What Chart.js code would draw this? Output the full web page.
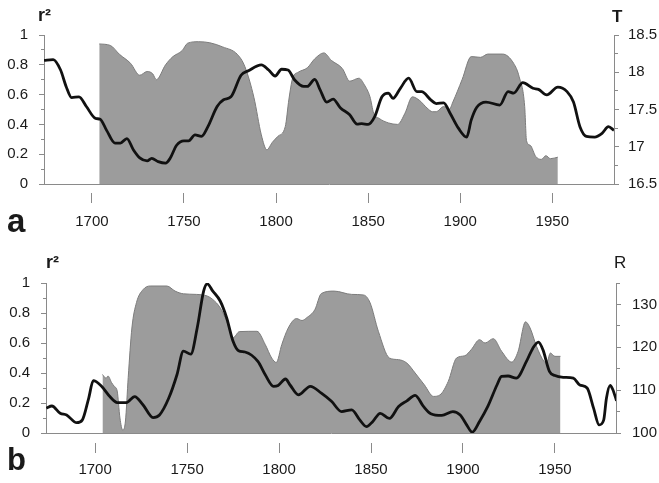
<!DOCTYPE html>
<html>
<head>
<meta charset="utf-8">
<script src="https://cdn.jsdelivr.net/npm/chart.js"></script>
<style>
  html, body { margin: 0; padding: 0; background: #fff; }
  #wrap { position: relative; width: 659px; height: 483px; overflow: hidden;
          font-family: 'Liberation Sans', Arial, sans-serif; color: #1a1a1a; }
  .panel { position: absolute; left: 0; width: 659px; }
  .lbl { position: absolute; line-height: 1; white-space: nowrap; }
</style>
</head>
<body>
<div id="wrap">
  <div class="panel" style="top:0;height:240px"><canvas id="chartA" width="659" height="240"></canvas></div>
  <div class="panel" style="top:240px;height:243px"><canvas id="chartB" width="659" height="243"></canvas></div>

  <div class="lbl" style="left:38px;top:6px;font-size:18px;font-weight:bold">r²</div>
  <div class="lbl" style="left:612px;top:8px;font-size:17px;font-weight:bold">T</div>
  <div class="lbl" style="left:7px;top:204px;font-size:33px;font-weight:bold">a</div>

  <div class="lbl" style="left:46px;top:253px;font-size:18px;font-weight:bold">r²</div>
  <div class="lbl" style="left:614px;top:254px;font-size:17px">R</div>
  <div class="lbl" style="left:7px;top:444px;font-size:31px;font-weight:bold">b</div>
</div>
<script>
// axes
var xTicks = [1700, 1750, 1800, 1850, 1900, 1950];
var r2Ticks = [0, 0.1, 0.2, 0.3, 0.4, 0.5, 0.6, 0.7, 0.8, 0.9, 1];
var r2TickLabels = ['0', '', '0.2', '', '0.4', '', '0.6', '', '0.8', '', '1'];
var tempTicks = [16.5, 16.75, 17, 17.25, 17.5, 17.75, 18, 18.25, 18.5];
var tempTickLabels = ['16.5', '', '17', '', '17.5', '', '18', '', '18.5'];
var rainTicks = [100, 105, 110, 115, 120, 125, 130, 135];
var rainTickLabels = ['100', '', '110', '', '120', '', '130', ''];

// panel a : r² (grey area)
var r2YearsA = [1704,1710,1715,1721,1726,1730,1733,1735,1740,1744,1749,1752,1758,1764,1771,1779,1783,1788,1792,1795,
  1798,1801,1805,1807,1809,1812,1817,1821,1826,1830,1836,1840,1845,1848,1851,1853,1856,1861,1866,1870,
  1874,1878,1882,1885,1887,1891,1894,1896,1901,1906,1911,1915,1923,1929,1932,1935,1936,1938,1941,1944,
  1946.5,1949,1953];
var r2A = [0.94,0.93,0.87,0.81,0.73,0.755,0.74,0.70,0.80,0.855,0.895,0.945,0.955,0.948,0.92,0.87,0.79,0.58,0.33,0.23,
  0.28,0.32,0.385,0.57,0.71,0.75,0.78,0.84,0.88,0.83,0.775,0.69,0.71,0.665,0.585,0.475,0.44,0.41,0.40,0.475,
  0.585,0.56,0.51,0.485,0.485,0.52,0.50,0.55,0.70,0.855,0.85,0.872,0.872,0.81,0.72,0.52,0.29,0.26,0.185,0.165,
  0.19,0.17,0.18];

// panel a : temperature T (black line)
var tYearsA = [1674,1679,1683,1686,1689,1693,1697,1702,1704.5,1708,
  1712.5,1715.5,1719,1722.5,1726,1730,1732.5,1736,1740,1742.5,
  1746,1750,1752.5,1756,1759.5,1763,1768,1771.5,1775.5,1781,
  1785,1792,1796,1799.5,1803,1806.5,1810,1815,1817,1821,
  1824,1827.5,1831,1835,1840,1844,1846.5,1850,1853.5,1857.5,
  1861,1863.5,1867.5,1872,1876.5,1879,1884,1887,1891,1894.5,
  1899,1903.5,1906,1909,1914,1921.5,1926,1929,1934,1939.5,
  1942.5,1947,1953,1958,1961.5,1965,1968.5,1973,1977,1980.5,
  1983.5];
var tA = [18.16,18.17,18.03,17.81,17.66,17.67,17.54,17.38,17.37,17.22,
  17.05,17.05,17.11,16.96,16.85,16.81,16.845,16.80,16.78,16.845,
  17.02,17.08,17.08,17.16,17.14,17.27,17.54,17.63,17.67,17.96,
  18.02,18.10,18.03,17.95,18.04,18.03,17.90,17.81,17.81,17.905,
  17.76,17.60,17.64,17.52,17.43,17.305,17.31,17.30,17.40,17.67,
  17.72,17.65,17.785,17.92,17.74,17.74,17.63,17.58,17.59,17.45,
  17.25,17.13,17.36,17.53,17.60,17.56,17.74,17.72,17.86,17.785,
  17.77,17.695,17.80,17.74,17.60,17.27,17.14,17.13,17.18,17.27,
  17.22];

// panel b : r² (grey area)
var r2YearsB = [1704,1706,1707,1709,1710.5,1712,1713.5,1715,1716.5,1718,
  1720,1722.5,1726,1730,1739,1743.5,1748,1755,1761,1764,
  1768,1771.5,1775,1778.5,1788,1792.5,1796,1798.5,1801.5,1805,
  1809.5,1812.5,1815,1819.5,1823,1830,1839.5,1846,1849.5,1854,
  1860,1865,1869.5,1874,1879,1884,1887.5,1892,1896.5,1901,
  1904.5,1909,1912,1916.5,1921,1926.5,1930,1934,1936.5,1940,
  1944,1945.5,1947.5,1950,1953];
var r2B = [0.39,0.365,0.38,0.335,0.31,0.28,0.10,0.02,0.08,0.37,
  0.70,0.87,0.955,0.98,0.98,0.946,0.928,0.924,0.913,0.89,
  0.835,0.746,0.635,0.676,0.678,0.59,0.50,0.47,0.59,0.70,
  0.763,0.75,0.768,0.823,0.93,0.946,0.924,0.92,0.868,0.678,
  0.50,0.489,0.466,0.40,0.321,0.244,0.254,0.344,0.50,0.515,
  0.556,0.622,0.60,0.629,0.545,0.473,0.545,0.741,0.70,0.578,
  0.478,0.466,0.533,0.511,0.511];

// panel b : R (black line)
var rYearsB = [1673.5,1676.5,1681,1684.5,1690,1693,1696.5,1699,1703.5,1708,
  1712,1717,1721.5,1726,1731.5,1735,1740,1744.5,1748,1752,
  1755.5,1759,1761,1764,1768,1771.5,1775,1778,1781.5,1788.5,
  1792.5,1797,1799.5,1803.5,1806,1810.5,1817,1823,1828.5,1834,
  1839.5,1844,1847.5,1851,1855,1860,1865,1869.5,1874,1878.5,
  1882.5,1888.5,1894.5,1898.5,1902,1905,1909,1913.5,1918.5,1921,
  1924.5,1929,1934.5,1938,1941,1943.5,1947,1950,1954.5,1960,
  1963.5,1967.5,1971,1974,1976.5,1978,1980,1981.5,1983.5];
var rB = [105.8,106.3,104.6,104.2,102.4,103.0,108.1,112.2,110.9,108.5,
  107.1,107.1,108.5,106.6,103.6,104.2,108.1,113.6,119.1,118.4,
  124.5,133.1,134.8,133.1,130.8,126.9,121.4,119.2,118.9,116.7,
  113.6,110.9,111.1,112.6,111.2,108.9,110.9,109.3,107.4,105.0,
  105.4,103.0,101.5,102.7,104.6,103.4,106.2,107.5,108.8,106.2,
  104.5,104.1,105.0,104.2,101.9,100.2,102.7,106.2,111.2,113.2,
  113.3,112.8,116.7,119.8,121.2,119.4,114.4,113.4,113.0,112.8,
  111.2,110.5,105.8,101.9,103.0,108.1,111.1,110.1,107.5];

var axisGrey = '#8a8a8a';
var tickFont = { family: "'Liberation Sans', Arial, sans-serif", size: 15 };

function toPoints(xs, ys) {
    var pts = [];
    for (var i = 0; i < Math.min(xs.length, ys.length); i++) pts.push({ x: xs[i], y: ys[i] });
    return pts;
}

function fixedTicks(values) {
    return function(scale) { scale.ticks = values.map(function(v) { return { value: v }; }); };
}

function makePanel(id, c) {
    var tl = c.gap + c.tick;
    return new Chart(document.getElementById(id), {
        type: 'line',
        data: {
            datasets: [{
                data: toPoints(c.lineYears, c.lineVals),
                yAxisID: 'y2',
                borderColor: '#111',
                borderWidth: 2.8,
                pointRadius: 0,
                cubicInterpolationMode: 'monotone',
                fill: false,
                order: 1
            }, {
                data: toPoints(c.r2Years, c.r2Vals),
                yAxisID: 'y',
                borderColor: '#7c7c7c',
                borderWidth: 1,
                backgroundColor: '#9c9c9c',
                pointRadius: 0,
                cubicInterpolationMode: 'monotone',
                fill: 'origin',
                order: 2
            }]
        },
        options: {
            responsive: false,
            animation: false,
            devicePixelRatio: 1,
            layout: { padding: { top: c.top, left: 0, right: 0, bottom: 0 } },
            plugins: { legend: { display: false }, tooltip: { enabled: false } },
            scales: {
                x: {
                    type: 'linear', min: c.xMin, max: c.xMax,
                    afterBuildTicks: fixedTicks(xTicks),
                    afterFit: function(s) { s.height = c.xHeight; },
                    border: { display: true, color: axisGrey, width: 1 },
                    grid: { drawOnChartArea: false, tickLength: tl, tickColor: axisGrey, tickWidth: 1,
                            tickBorderDash: [0, c.gap, c.tick, 100] },
                    ticks: { padding: c.xPad, color: '#1a1a1a', font: tickFont, maxRotation: 0, autoSkip: false,
                             callback: function(v) { return String(v); } }
                },
                y: {
                    position: 'left', min: 0, max: 1,
                    afterBuildTicks: fixedTicks(r2Ticks),
                    afterFit: function(s) { s.width = c.leftW; },
                    border: { display: true, color: axisGrey, width: 1 },
                    grid: { drawOnChartArea: false, tickLength: 5, tickColor: axisGrey,
                            tickBorderDash: function(ctx) { return r2TickLabels[ctx.index] ? [] : [0, 2, 3, 100]; } },
                    ticks: { padding: 11, color: '#1a1a1a', font: tickFont, autoSkip: false,
                             callback: function(v, i) { return r2TickLabels[i]; } }
                },
                y2: {
                    position: 'right', min: c.rMin, max: c.rMax,
                    afterBuildTicks: fixedTicks(c.rTicks),
                    afterFit: function(s) { s.width = c.rightW; },
                    border: { display: true, color: axisGrey, width: 1 },
                    grid: { drawOnChartArea: false, tickLength: 5, tickColor: axisGrey,
                            tickBorderDash: function(ctx) { return c.rLabels[ctx.index] ? [] : [3, 100]; } },
                    ticks: { padding: c.rPad, color: '#1a1a1a', font: tickFont, autoSkip: false,
                             callback: function(v, i) { return c.rLabels[i]; } }
                }
            }
        }
    });
}

makePanel('chartA', {
    r2Years: r2YearsA, r2Vals: r2A, lineYears: tYearsA, lineVals: tA,
    xMin: 1674, xMax: 1983.5, top: 35, xHeight: 56, leftW: 44, rightW: 45,
    gap: 8, tick: 11, xPad: 10,
    rMin: 16.5, rMax: 18.5, rTicks: tempTicks, rLabels: tempTickLabels, rPad: 9
});

makePanel('chartB', {
    r2Years: r2YearsB, r2Vals: r2B, lineYears: rYearsB, lineVals: rB,
    xMin: 1673.3, xMax: 1983.2, top: 43, xHeight: 50, leftW: 46, rightW: 43,
    gap: 9, tick: 11, xPad: 8,
    rMin: 100, rMax: 135, rTicks: rainTicks, rLabels: rainTickLabels, rPad: 11
});
</script>
</body>
</html>
